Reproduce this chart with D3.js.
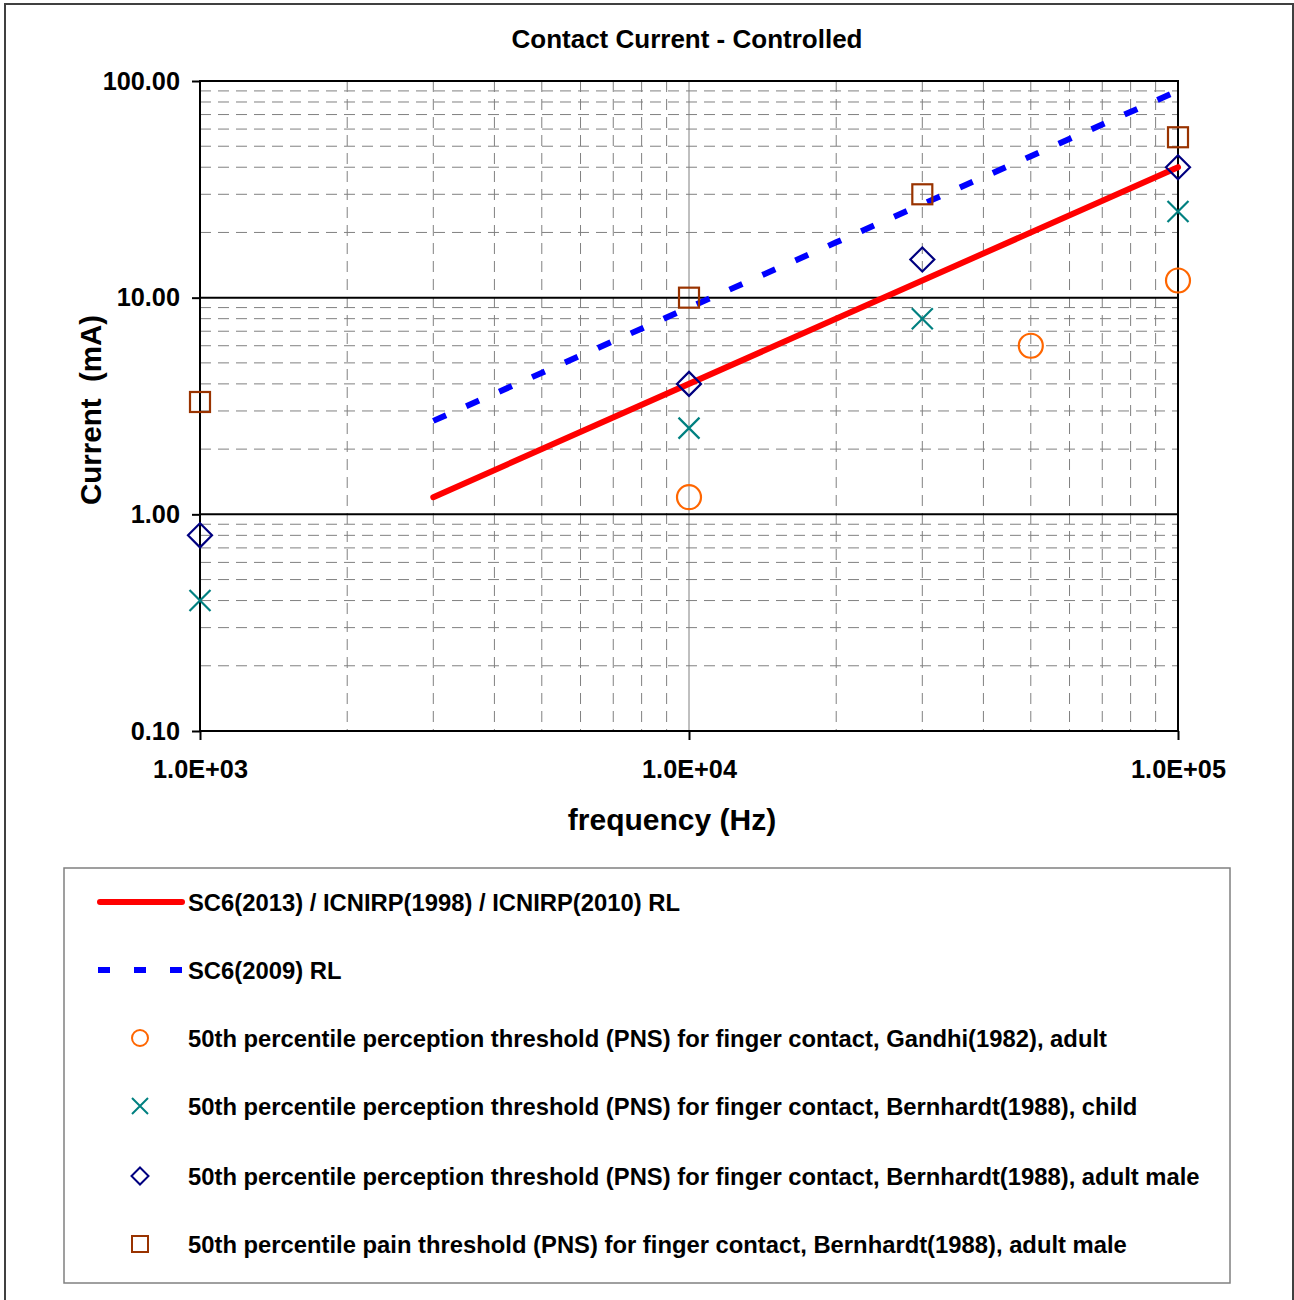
<!DOCTYPE html>
<html>
<head>
<meta charset="utf-8">
<script src="https://cdn.jsdelivr.net/npm/d3@7"></script>
<style>
  body { margin: 0; background: #fff; }
  svg { font-family: "Liberation Sans", Arial, sans-serif; font-weight: bold; }
  text { white-space: pre; }
</style>
</head>
<body>
<svg width="1294" height="1300"></svg>
<script>
// reference levels
const rl2013 = [[3000, 1.2], [100000, 40]];
const rl2009 = [[3000, 2.7], [10000, 9], [20000, 18], [30000, 27], [50000, 45], [100000, 90]];
// measured thresholds
const gandhiAdult = [[10000, 1.2], [50000, 6], [100000, 12]];
const bernChild = [[1000, 0.4], [10000, 2.5], [30000, 8], [100000, 25]];
const bernMale = [[1000, 0.8], [10000, 4], [30000, 15], [100000, 40]];
const bernPain = [[1000, 3.3], [10000, 10], [30000, 30], [100000, 55]];

const yTicks = [0.1, 1, 10, 100];
const xTicks = [1e3, 1e4, 1e5];
const legendLabels = [
  "SC6(2013) / ICNIRP(1998) / ICNIRP(2010) RL",
  "SC6(2009) RL",
  "50th percentile perception threshold (PNS) for finger contact, Gandhi(1982), adult",
  "50th percentile perception threshold (PNS) for finger contact, Bernhardt(1988), child",
  "50th percentile perception threshold (PNS) for finger contact, Bernhardt(1988), adult male",
  "50th percentile pain threshold (PNS) for finger contact, Bernhardt(1988), adult male"
];

const svg = d3.select('svg');
const pL = 200, pR = 1178, pT = 81, pB = 731;
const x = d3.scaleLog().domain([1e3, 1e5]).range([pL, pR]);
const y = d3.scaleLog().domain([0.1, 100]).range([pB, pT]);

svg.append('rect').attr('x', 5).attr('y', 4).attr('width', 1288).attr('height', 1310)
  .attr('fill', 'none').attr('stroke', '#404040').attr('stroke-width', 2);

svg.append('text').attr('x', 687).attr('y', 48).attr('text-anchor', 'middle')
  .attr('font-size', 26).text('Contact Current - Controlled');

// minor grid
let minorY = [], minorX = [];
[0.1, 1, 10].forEach(b => { for (let k = 2; k <= 9; k++) minorY.push(b * k); });
[1e3, 1e4].forEach(b => { for (let k = 2; k <= 9; k++) minorX.push(b * k); });

const grid = svg.append('g');
grid.selectAll('.gy').data(minorY).enter().append('line')
  .attr('x1', pL).attr('x2', pR).attr('y1', d => y(d)).attr('y2', d => y(d))
  .attr('stroke', '#808080').attr('stroke-dasharray', '11,7');
grid.selectAll('.gx').data(minorX).enter().append('line')
  .attr('y1', pT).attr('y2', pB).attr('x1', d => x(d)).attr('x2', d => x(d))
  .attr('stroke', '#808080').attr('stroke-dasharray', '11,7');
grid.append('line').attr('y1', pT).attr('y2', pB).attr('x1', x(1e4)).attr('x2', x(1e4))
  .attr('stroke', '#808080');
grid.selectAll('.my').data([1, 10]).enter().append('line')
  .attr('x1', pL).attr('x2', pR).attr('y1', d => y(d)).attr('y2', d => y(d))
  .attr('stroke', '#000').attr('stroke-width', 2);
svg.append('rect').attr('x', pL).attr('y', pT).attr('width', pR - pL).attr('height', pB - pT)
  .attr('fill', 'none').attr('stroke', '#000').attr('stroke-width', 2);

// axes
const yAxis = svg.append('g').attr('transform', `translate(${pL},0)`)
  .call(d3.axisLeft(y).tickValues(yTicks).tickFormat(d3.format('.2f')).tickSize(8).tickPadding(12));
const xAxis = svg.append('g').attr('transform', `translate(0,${pB})`)
  .call(d3.axisBottom(x).tickValues(xTicks).tickFormat(d => '1.0E+0' + Math.round(Math.log10(d))).tickSize(9).tickPadding(20));
[yAxis, xAxis].forEach(a => {
  a.select('.domain').remove();
  a.selectAll('line').attr('stroke', '#000').attr('stroke-width', 2);
  a.selectAll('text').attr('fill', '#000').attr('font-size', 25.3)
    .attr('font-family', '"Liberation Sans", Arial, sans-serif').attr('font-weight', 'bold');
});

svg.append('text').attr('transform', 'translate(101,410) rotate(-90)').attr('text-anchor', 'middle')
  .attr('font-size', 29.5).text('Current  (mA)');
svg.append('text').attr('x', 672).attr('y', 830).attr('text-anchor', 'middle')
  .attr('font-size', 30).text('frequency (Hz)');

// lines
const line = d3.line().x(d => x(d[0])).y(d => y(d[1]));
svg.append('path').datum(rl2009).attr('d', line).attr('fill', 'none')
  .attr('stroke', '#0000ff').attr('stroke-width', 6).attr('stroke-dasharray', '14,22');
svg.append('path').datum(rl2013).attr('d', line).attr('fill', 'none')
  .attr('stroke', '#ff0000').attr('stroke-width', 6).attr('stroke-linecap', 'round');

// markers
const markers = {
  circle: (g, s) => g.append('circle').attr('r', s).attr('stroke', '#ff6600'),
  cross: (g, s) => g.append('path').attr('d', `M${-s},${-s}L${s},${s}M${-s},${s}L${s},${-s}`).attr('stroke', '#008080'),
  diamond: (g, s) => g.append('path').attr('d', `M0,${-s}L${s},0L0,${s}L${-s},0Z`).attr('stroke', '#000080'),
  square: (g, s) => g.append('rect').attr('x', -s).attr('y', -s).attr('width', 2 * s).attr('height', 2 * s).attr('stroke', '#993300')
};
const series = [
  { data: gandhiAdult, m: 'circle', s: 12, ls: 8 },
  { data: bernChild, m: 'cross', s: 10.5, ls: 8 },
  { data: bernMale, m: 'diamond', s: 12, ls: 8.5 },
  { data: bernPain, m: 'square', s: 10, ls: 8 }
];
series.forEach(se => {
  se.data.forEach(d => {
    const g = svg.append('g').attr('transform', `translate(${x(d[0])},${y(d[1])})`)
      .attr('fill', 'none').attr('stroke-width', 2.2);
    markers[se.m](g, se.s);
  });
});

// legend
svg.append('rect').attr('x', 64).attr('y', 868).attr('width', 1166).attr('height', 415)
  .attr('fill', 'none').attr('stroke', '#808080').attr('stroke-width', 1.5);
const legY = [902, 970, 1038, 1106, 1176, 1244];
legendLabels.forEach((t, i) => {
  svg.append('text').attr('x', 188).attr('y', legY[i] + 8.5).attr('font-size', 23.8).text(t);
});
svg.append('line').attr('x1', 100).attr('x2', 182).attr('y1', legY[0]).attr('y2', legY[0])
  .attr('stroke', '#ff0000').attr('stroke-width', 6).attr('stroke-linecap', 'round');
svg.append('line').attr('x1', 98).attr('x2', 182).attr('y1', legY[1]).attr('y2', legY[1])
  .attr('stroke', '#0000ff').attr('stroke-width', 6).attr('stroke-dasharray', '12,24');
series.forEach((se, i) => {
  const g = svg.append('g').attr('transform', `translate(140,${legY[i + 2]})`)
    .attr('fill', 'none').attr('stroke-width', 2);
  markers[se.m](g, se.ls);
});
</script>
</body>
</html>
